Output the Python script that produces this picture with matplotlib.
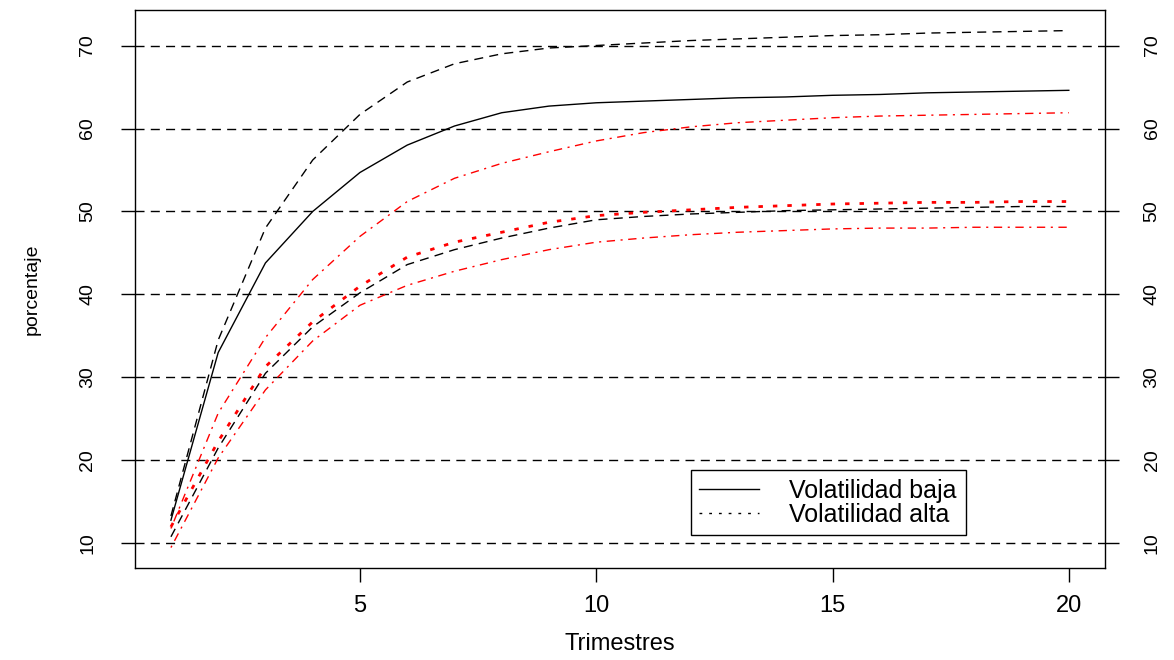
import matplotlib
matplotlib.use("Agg")
import matplotlib.pyplot as plt
from matplotlib.lines import Line2D
import numpy as np

plt.rcParams['font.family'] = ['Liberation Sans', 'DejaVu Sans']

trimestres = list(range(1, 21))
baja_sup = [13.3, 34.5, 48.0, 56.2, 61.7, 65.6, 67.8, 69.0, 69.7, 70.0,
            70.3, 70.6, 70.8, 71.0, 71.2, 71.3, 71.5, 71.6, 71.7, 71.8]
baja = [12.8, 33.0, 43.8, 50.0, 54.7, 58.0, 60.3, 61.9, 62.7, 63.1,
        63.3, 63.5, 63.7, 63.8, 64.0, 64.1, 64.3, 64.4, 64.5, 64.6]
baja_inf = [10.8, 21.5, 30.5, 36.1, 40.2, 43.6, 45.4, 46.8, 48.0, 49.0,
            49.4, 49.7, 49.9, 50.1, 50.2, 50.3, 50.4, 50.5, 50.6, 50.6]
alta_sup = [11.8, 25.7, 34.8, 41.8, 47.0, 51.2, 54.0, 55.8, 57.2, 58.5,
            59.5, 60.2, 60.7, 61.0, 61.3, 61.5, 61.6, 61.7, 61.8, 61.9]
alta = [12.0, 22.3, 31.3, 36.7, 41.0, 44.5, 46.3, 47.5, 48.7, 49.5,
        49.9, 50.2, 50.5, 50.7, 50.9, 51.0, 51.1, 51.1, 51.2, 51.2]
alta_inf = [9.5, 20.3, 28.5, 34.4, 38.7, 41.1, 42.8, 44.2, 45.4, 46.3,
            46.8, 47.2, 47.5, 47.7, 47.9, 48.0, 48.0, 48.1, 48.1, 48.1]
y_ticks = [10, 20, 30, 40, 50, 60, 70]
x_ticks = [5, 10, 15, 20]
legend_labels = ["Volatilidad baja", "Volatilidad alta"]

fig = plt.figure(figsize=(11.74, 6.6), dpi=100)
ax = fig.add_axes([0.115, 0.139, 0.826, 0.846])

for h in y_ticks:
    ax.axhline(h, color='black', lw=1.0, dashes=(6.5, 4.5), zorder=1)

ax.plot(trimestres, baja_sup, color='black', lw=1.0, dashes=(6.5, 4.5))
ax.plot(trimestres, baja, color='black', lw=1.0)
ax.plot(trimestres, baja_inf, color='black', lw=1.0, dashes=(6.5, 4.5))
ax.plot(trimestres, alta_sup, color='red', lw=1.0, dashes=(1.5, 4, 6, 4))
ax.plot(trimestres, alta_inf, color='red', lw=1.0, dashes=(1.5, 4, 6, 4))
ax.plot(trimestres, alta, color='red', lw=2.0, dashes=(1.6, 3.6))

ymin = min(alta_inf); ymax = max(baja_sup)
d = ymax - ymin
ax.set_ylim(ymin - 0.04 * d, ymax + 0.04 * d)
ax.set_xlim(1 - 0.04 * 19, 20 + 0.04 * 19)

ax.set_xticks(x_ticks)
ax.set_yticks(y_ticks)
ax.tick_params(axis='x', length=10, width=1, pad=9, labelsize=17)
ax.tick_params(axis='y', length=10, width=1, labelsize=14, pad=18,
               left=True, right=True, labelleft=True, labelright=True)
for t in ax.yaxis.get_major_ticks():
    t.label1.set_rotation(90)
    t.label1.set_va('center')
    t.label2.set_rotation(90)
    t.label2.set_va('center')

for s in ax.spines.values():
    s.set_linewidth(1.0)

ax.set_xlabel("Trimestres", fontsize=17, labelpad=12)
ax.set_ylabel("porcentaje", fontsize=14, labelpad=28)

handles = [Line2D([], [], color='black', lw=1.0),
           Line2D([], [], color='black', lw=1.0, dashes=(2, 5))]
leg = ax.legend(handles, legend_labels, loc='upper left',
                bbox_to_anchor=(0.573, 0.176), fontsize=18, frameon=True,
                fancybox=False, edgecolor='black', framealpha=1,
                handlelength=2.4, handletextpad=1.2, borderpad=0.35,
                labelspacing=0.0, borderaxespad=0)
leg.get_frame().set_linewidth(1.0)

fig.savefig("out.png", dpi=100)
